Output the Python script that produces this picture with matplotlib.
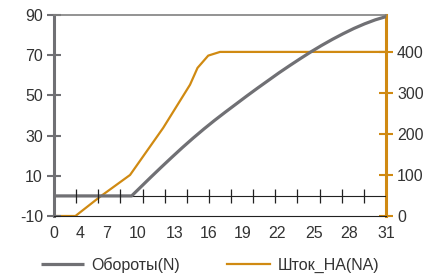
import matplotlib
matplotlib.use("Agg")
import matplotlib.pyplot as plt
import numpy as np

plt.rcParams['font.family'] = ['Liberation Sans', 'DejaVu Sans']

# Data (x in axis units 0..31)
x_oboroty = [0, 7.25, 8, 9, 10, 11, 12, 13, 14, 15, 16, 17, 18, 19, 20,
             21, 22, 23, 24, 25, 26, 27, 28, 29, 30, 31]
y_oboroty = [0, 0, 3.9, 9.1, 14.2, 19.2, 24.1, 28.8, 33.3, 37.6, 41.7,
             45.7, 49.7, 53.6, 57.4, 61.2, 64.8, 68.3, 71.7, 74.9, 77.9,
             80.7, 83.3, 85.6, 87.6, 89.2]
x_shtok = [0, 2.0, 4.3, 7.1, 10.2, 12.7, 13.4, 14.4, 15.5, 31]
y_shtok = [0, 0, 47, 100, 215, 320, 361, 391, 400, 400]

x_tick_pos = [0, 2.43, 4.9, 7.84, 11.3, 14.4, 17.6, 20.8, 24.3, 27.6, 31]
x_tick_labels = ['0', '4', '7', '10', '13', '16', '19', '22', '25', '28', '31']
left_ticks = [-10, 10, 30, 50, 70, 90]
right_ticks = [0, 100, 200, 300, 400]

GREY = '#707074'
ORANGE = '#D08A12'
TEXT = '#333333'
FS = 11.5

fig = plt.figure(figsize=(4.43, 2.75), dpi=100)
ax = fig.add_axes([54/443, (275-216)/275, (386-54)/443, (216-15)/275])
ax2 = ax.twinx()
ax.set_zorder(ax2.get_zorder() + 1)
ax.patch.set_visible(False)

ax.set_xlim(0, 31)
ax.set_ylim(-10, 90)
ax2.set_ylim(0, 490)

# zero line with ticks
ax.axhline(0, color='#222222', lw=0.8, zorder=2)
minor = np.linspace(0, 31, 16)[1:-1]
ax.plot(minor, np.zeros_like(minor), ls='none', marker='|', ms=10,
        mew=0.9, color='#222222', zorder=5)

l1, = ax.plot(x_oboroty, y_oboroty, color=GREY, lw=2.3, zorder=4,
              solid_capstyle='butt', label='Обороты(N)')
l2, = ax2.plot(x_shtok, y_shtok, color=ORANGE, lw=1.6, zorder=3,
               label='Шток_HA(NA)')

# spines
for a in (ax, ax2):
    for s in a.spines.values():
        s.set_visible(False)
ax.spines['left'].set_visible(True)
ax.spines['left'].set_color(GREY)
ax.spines['left'].set_linewidth(2.2)
ax.spines['top'].set_visible(True)
ax.spines['top'].set_color('#808080')
ax.spines['top'].set_linewidth(1.2)
ax.spines['bottom'].set_visible(True)
ax.spines['bottom'].set_color('#222222')
ax.spines['bottom'].set_linewidth(0.8)
ax2.spines['right'].set_visible(True)
ax2.spines['right'].set_color(ORANGE)
ax2.spines['right'].set_linewidth(2.2)

ax.set_yticks(left_ticks)
ax.set_yticklabels([str(v) for v in left_ticks])
ax.tick_params(axis='y', direction='inout', length=10, width=1.5,
               color=GREY, labelcolor=TEXT, labelsize=FS, pad=3)
ax2.set_yticks(right_ticks)
ax2.set_yticklabels([str(v) for v in right_ticks])
ax2.tick_params(axis='y', direction='inout', length=10, width=1.5,
                color=ORANGE, labelcolor=TEXT, labelsize=FS, pad=3)
ax.set_xticks(x_tick_pos)
ax.set_xticklabels(x_tick_labels)
ax.tick_params(axis='x', length=0, labelcolor=TEXT, labelsize=FS, pad=7)

fig.legend(handles=[l1, l2], loc='center', bbox_to_anchor=(0.474, 0.036),
           ncol=2, frameon=False, fontsize=FS, handlelength=2.7,
           handletextpad=0.5, columnspacing=2.9, labelcolor=TEXT,
           borderpad=0)

fig.savefig('out.png', dpi=100)
